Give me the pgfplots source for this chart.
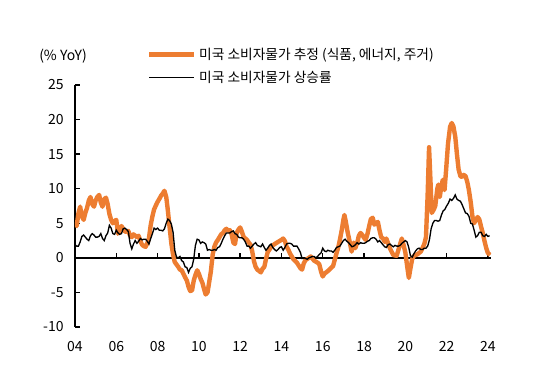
\documentclass[border=0pt]{standalone}
\usepackage{pgfplots}
\pgfplotsset{compat=1.18}
\usepackage{fontspec}
\setmainfont{Noto Sans CJK KR}
\definecolor{korange}{RGB}{237,125,49}
\begin{document}
\begin{tikzpicture}
\begin{axis}[
  name=ax,
  scale only axis,
  width=312pt, height=181.5pt,
  xmin=2004, xmax=2024.15,
  ymin=-10, ymax=25,
  axis y line*=left, axis x line*=bottom,
  x axis line style={draw=none},
  y axis line style={line width=1.1pt},
  xtick={2004,2006,...,2024},
  xticklabels={04,06,08,10,12,14,16,18,20,22,24},
  ytick={-10,-5,...,25},
  xtick style={draw=none},
  ytick style={line width=1.1pt, black},
  tick align=inside,
  major tick length=4pt,
  tick label style={font=\fontsize{10.5}{12}\selectfont},
  /pgf/number format/assume math mode=true,
  xticklabel style={yshift=-7pt},
  yticklabel style={xshift=-5pt},
  legend style={at={(0.172,1.166)}, anchor=north west, draw=none, fill=none,
     font=\fontsize{10.3}{12}\selectfont, row sep=3.5pt, inner sep=0pt},
  legend cell align=left,
  legend image code/.code={\draw[#1] (0pt,0pt) -- (34pt,0pt);},
]
\draw[black, line width=1.2pt] (axis cs:2004,0) -- (axis cs:2024.15,0);
\pgfplotsinvokeforeach{2006,2008,2010,2012,2014,2016,2018,2020,2022,2024}{
  \draw[black, line width=1.1pt] (axis cs:#1,0) -- ++(0pt,3.5pt);
}
\addplot[korange, line width=3.3pt, line join=round] coordinates {
(2004.00,5.0)(2004.08,4.6)(2004.17,6.5)(2004.25,7.4)(2004.33,6.0)(2004.42,5.5)(2004.50,6.5)(2004.58,7.2)(2004.67,8.3)(2004.75,8.8)(2004.83,7.8)(2004.92,7.4)
(2005.00,8.3)(2005.08,8.8)(2005.17,9.1)(2005.25,8.0)(2005.33,7.4)(2005.42,8.5)(2005.50,8.7)(2005.58,7.8)(2005.67,6.3)(2005.75,5.5)(2005.83,5.0)(2005.92,5.3)
(2006.00,5.5)(2006.08,3.5)(2006.17,4.0)(2006.25,4.6)(2006.33,4.2)(2006.42,3.8)(2006.50,3.8)(2006.58,3.9)(2006.67,3.2)(2006.75,3.0)(2006.83,3.4)(2006.92,3.2)
(2007.00,3.0)(2007.08,3.2)(2007.17,2.4)(2007.25,1.9)(2007.33,1.7)(2007.42,1.6)(2007.50,2.1)(2007.58,2.8)(2007.67,4.8)(2007.75,6.0)(2007.83,7.0)(2007.92,7.6)
(2008.00,8.1)(2008.08,8.5)(2008.17,9.0)(2008.25,9.3)(2008.33,9.7)(2008.42,8.8)(2008.50,6.8)(2008.58,4.5)(2008.67,2.0)(2008.75,0.5)(2008.83,-0.6)
(2009.00,-1.3)(2009.08,-1.7)(2009.17,-1.8)(2009.33,-2.8)(2009.42,-3.3)(2009.50,-4.2)(2009.58,-4.8)(2009.67,-4.7)(2009.75,-3.3)(2009.83,-2.5)(2009.92,-1.8)
(2010.00,-2.3)(2010.08,-3.0)(2010.17,-3.6)(2010.25,-4.5)(2010.33,-5.3)(2010.42,-5.0)(2010.50,-3.5)(2010.58,-2.0)(2010.67,0.5)(2010.75,1.6)(2010.83,2.2)(2010.92,2.6)
(2011.00,3.0)(2011.08,3.4)(2011.17,3.6)(2011.25,4.0)(2011.33,4.2)(2011.42,3.9)(2011.50,4.0)(2011.58,3.5)(2011.67,2.2)(2011.75,2.0)(2011.83,3.6)(2011.92,4.1)
(2012.00,4.4)(2012.08,3.8)(2012.17,3.0)(2012.25,2.8)(2012.33,2.6)(2012.42,2.2)(2012.50,1.9)(2012.58,1.0)(2012.67,-0.5)(2012.75,-1.3)(2012.83,-1.7)(2012.92,-1.9)
(2013.00,-2.1)(2013.08,-1.6)(2013.17,-1.3)(2013.25,-0.2)(2013.33,0.8)(2013.42,1.2)(2013.50,1.6)(2013.67,2.0)(2013.83,2.3)
(2014.00,2.6)(2014.08,2.8)(2014.17,2.4)(2014.25,1.6)(2014.33,1.2)(2014.42,0.6)(2014.50,0.2)(2014.58,-0.2)(2014.75,-0.7)(2014.92,-1.5)
(2015.00,-1.7)(2015.08,-0.8)(2015.17,-0.3)(2015.33,0.0)(2015.42,0.2)(2015.58,-0.4)(2015.75,-0.7)(2015.83,-0.9)(2015.92,-2.0)
(2016.00,-2.7)(2016.08,-2.3)(2016.25,-1.9)(2016.42,-1.4)(2016.50,-1.2)(2016.58,-0.3)(2016.67,0.7)(2016.75,1.5)(2016.83,2.6)(2016.92,4.0)
(2017.00,5.5)(2017.05,6.2)(2017.12,5.2)(2017.20,3.8)(2017.30,2.4)(2017.40,0.9)(2017.50,2.2)(2017.58,1.4)(2017.67,2.2)(2017.75,3.2)(2017.83,3.6)(2017.92,3.3)
(2018.00,2.9)(2018.08,2.6)(2018.17,3.5)(2018.25,4.6)(2018.33,5.6)(2018.42,5.8)(2018.50,4.8)(2018.58,5.0)(2018.67,5.2)(2018.75,4.0)(2018.83,3.0)(2018.92,2.8)
(2019.00,2.3)(2019.08,2.8)(2019.25,1.4)(2019.42,0.4)(2019.58,0.3)(2019.75,2.0)(2019.83,2.8)(2019.92,1.8)
(2020.00,0.8)(2020.08,-1.0)(2020.17,-2.9)(2020.25,-1.5)(2020.33,-0.2)(2020.42,0.3)(2020.58,0.5)(2020.75,0.9)(2020.83,1.4)(2020.92,2.0)
(2021.00,3.0)(2021.08,9.0)(2021.15,16.0)(2021.22,11.0)(2021.28,6.5)(2021.38,7.0)(2021.45,7.5)(2021.55,10.0)(2021.60,10.6)(2021.67,8.8)(2021.75,10.5)(2021.82,11.3)(2021.90,9.8)(2021.97,12.5)
(2022.07,16.6)(2022.17,19.0)(2022.25,19.5)(2022.33,19.0)(2022.42,17.5)(2022.50,15.0)(2022.58,12.8)(2022.67,11.8)(2022.75,11.7)(2022.83,12.0)(2022.92,11.8)
(2023.00,11.0)(2023.08,9.8)(2023.17,8.0)(2023.25,6.0)(2023.33,5.0)(2023.42,5.5)(2023.50,5.9)(2023.58,5.6)(2023.67,4.5)(2023.75,3.6)(2023.83,2.5)(2023.92,1.4)
(2024.00,0.7)(2024.10,0.4)
};
\addlegendentry{미국 소비자물가 추정 (식품, 에너지, 주거)}
\addplot[black, line width=1pt] table[row sep=\\, x expr=2004+\coordindex/12, y=v] {
v\\
1.9\\1.7\\1.7\\2.3\\3.1\\3.3\\3.0\\2.7\\2.5\\3.2\\3.5\\3.3\\
3.0\\3.0\\3.1\\3.5\\2.8\\2.5\\3.2\\3.6\\4.7\\4.3\\3.5\\3.4\\
4.0\\3.6\\3.4\\3.5\\4.2\\4.3\\4.1\\3.8\\2.1\\1.3\\2.0\\2.5\\
2.1\\2.4\\2.8\\2.6\\2.7\\2.7\\2.4\\2.0\\2.8\\3.5\\4.3\\4.1\\
4.3\\4.0\\4.0\\3.9\\4.2\\5.0\\5.6\\5.4\\4.9\\3.7\\1.1\\0.1\\
0.0\\0.2\\-0.4\\-0.6\\-1.3\\-1.4\\-2.1\\-1.5\\-1.3\\-0.2\\1.8\\2.7\\
2.6\\2.1\\2.3\\2.2\\2.0\\1.1\\1.2\\1.1\\1.1\\1.2\\1.1\\1.5\\
1.6\\2.1\\2.7\\3.2\\3.6\\3.6\\3.6\\3.8\\3.9\\3.5\\3.4\\3.0\\
2.9\\2.9\\2.7\\2.3\\1.7\\1.7\\1.4\\1.7\\2.0\\2.2\\1.8\\1.7\\
1.6\\2.0\\1.5\\1.1\\1.4\\1.8\\2.0\\1.5\\1.2\\1.0\\1.2\\1.5\\
1.6\\1.1\\1.5\\2.0\\2.1\\2.1\\2.0\\1.7\\1.7\\1.7\\1.3\\0.8\\
-0.1\\0.0\\-0.1\\-0.2\\0.0\\0.1\\0.2\\0.2\\0.0\\0.2\\0.5\\0.7\\
1.4\\1.0\\0.9\\1.1\\1.0\\1.0\\0.8\\1.1\\1.5\\1.6\\1.7\\2.1\\
2.5\\2.7\\2.4\\2.2\\1.9\\1.6\\1.7\\1.9\\2.2\\2.0\\2.2\\2.1\\
2.1\\2.2\\2.4\\2.5\\2.8\\2.9\\2.9\\2.7\\2.3\\2.5\\2.2\\1.9\\
1.6\\1.5\\1.9\\2.0\\1.8\\1.6\\1.8\\1.7\\1.7\\1.8\\2.1\\2.3\\
2.5\\2.3\\1.5\\0.3\\0.1\\0.6\\1.0\\1.3\\1.4\\1.2\\1.2\\1.4\\
1.4\\1.7\\2.6\\4.2\\5.0\\5.4\\5.4\\5.3\\5.4\\6.2\\6.8\\7.0\\
7.5\\7.9\\8.5\\8.3\\8.6\\9.1\\8.5\\8.3\\8.2\\7.7\\7.1\\6.5\\
6.4\\6.0\\5.0\\4.9\\4.0\\3.0\\3.2\\3.7\\3.7\\3.2\\3.1\\3.4\\
3.1\\3.2\\
};
\addlegendentry{미국 소비자물가 상승률}
\end{axis}
\node[font=\fontsize{10.5}{12}\selectfont] at ([shift={(-9pt,203.25pt)}]ax.south west) {(\% YoY)};
\pgfresetboundingbox
\path[use as bounding box] ([shift={(-56.25pt,-34.5pt)}]ax.south west) rectangle ([shift={(50.25pt,63.75pt)}]ax.north east);
\end{tikzpicture}
\end{document}
